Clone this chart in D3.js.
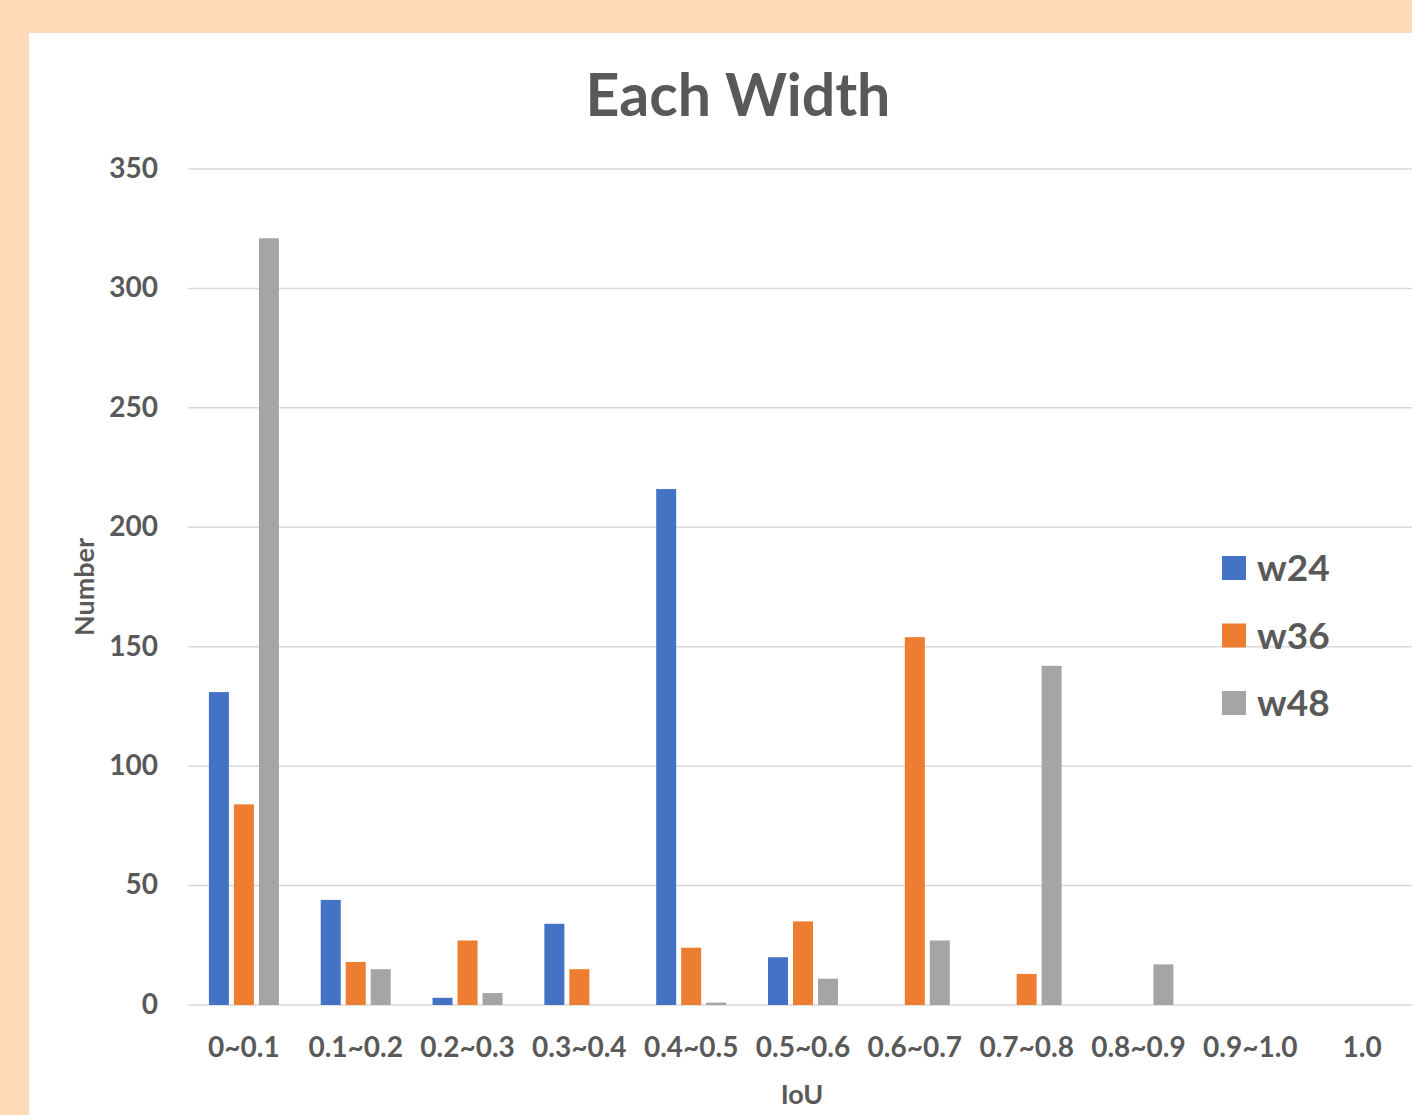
<!DOCTYPE html>
<html>
<head>
<meta charset="utf-8">
<script src="https://cdn.jsdelivr.net/npm/d3@7"></script>
<style>
  html, body { margin: 0; padding: 0; background: #FFDAB9; }
  svg { display: block; }
  text { font-family: Lato, "Open Sans", sans-serif; font-weight: 700; fill: #595959; }
</style>
</head>
<body>
<svg id="chart" width="1412" height="1115"></svg>
<script>
// IoU buckets along the x axis
const categories = ["0~0.1", "0.1~0.2", "0.2~0.3", "0.3~0.4", "0.4~0.5", "0.5~0.6",
                    "0.6~0.7", "0.7~0.8", "0.8~0.9", "0.9~1.0", "1.0"];
const seriesNames = ["w24", "w36", "w48"];
const w24 = [131, 44, 3, 34, 216, 20, 0, 0, 0, 0, 0];
const w36 = [84, 18, 27, 15, 24, 35, 154, 13, 0, 0, 0];
const w48 = [321, 15, 5, 0, 1, 11, 27, 142, 17, 0, 0];
const yTicks = [0, 50, 100, 150, 200, 250, 300, 350];
const colors = ["#4472C4", "#ED7D31", "#A5A5A5"];

const seriesValues = [w24, w36, w48];
const svg = d3.select("#chart");

// white chart panel over the peach background
svg.append("rect").attr("x", 29).attr("y", 33).attr("width", 1412 - 29).attr("height", 1115 - 33)
  .attr("fill", "#ffffff");

const plot = { left: 188, right: 1418, top: 169, bottom: 1005 };

const y = d3.scaleLinear().domain([0, 350]).range([plot.bottom, plot.top]);
const x0 = d3.scaleBand().domain(categories).range([plot.left, plot.right])
  .paddingInner(0.374).paddingOuter(0.187);
const x1 = d3.scaleBand().domain(seriesNames).range([0, x0.bandwidth()]).paddingInner(0.2);

// gridlines
const grid = svg.append("g");
grid.selectAll("line").data(yTicks).join("line")
  .attr("x1", plot.left).attr("x2", 1412)
  .attr("y1", d => y(d)).attr("y2", d => y(d))
  .attr("stroke", "#d9d9d9").attr("stroke-width", 1.5);

// y axis labels
const yAxis = svg.append("g").attr("transform", `translate(${plot.left - 30},0)`)
  .call(d3.axisLeft(y).tickValues(yTicks).tickSize(0).tickPadding(0));
yAxis.select(".domain").remove();
yAxis.selectAll("text").attr("font-size", 28).attr("dy", "0.3em")
  .style("font-family", "Lato, sans-serif").style("font-weight", 700).attr("fill", "#595959");

// bars
const groups = svg.append("g").selectAll("g").data(categories).join("g")
  .attr("transform", d => `translate(${x0(d)},0)`);
groups.selectAll("rect")
  .data((c, i) => seriesNames.map((s, k) => ({ s, k, v: seriesValues[k][i] })))
  .join("rect")
  .attr("x", d => x1(d.s))
  .attr("width", x1.bandwidth())
  .attr("y", d => y(d.v))
  .attr("height", d => y(0) - y(d.v))
  .attr("fill", d => colors[d.k]);

// x axis labels
const xAxis = svg.append("g").attr("transform", `translate(0,${plot.bottom + 32})`)
  .call(d3.axisBottom(x0).tickSize(0).tickPadding(0));
xAxis.select(".domain").remove();
xAxis.selectAll("text").attr("font-size", 28).attr("dy", "0.71em")
  .style("font-family", "Lato, sans-serif").style("font-weight", 700).attr("fill", "#595959");

// title
svg.append("text").attr("x", 738).attr("y", 116).attr("text-anchor", "middle")
  .attr("font-size", 59).text("Each Width");

// axis titles
svg.append("text").attr("x", 802).attr("y", 1104).attr("text-anchor", "middle")
  .attr("font-size", 27).text("IoU");
svg.append("text").attr("transform", "translate(94,587) rotate(-90)")
  .attr("text-anchor", "middle").attr("font-size", 27).text("Number");

// legend
const legend = svg.append("g").selectAll("g").data(seriesNames).join("g")
  .attr("transform", (d, i) => `translate(1222,${556 + i * 67.5})`);
legend.append("rect").attr("width", 24).attr("height", 24).attr("fill", (d, i) => colors[i]);
legend.append("text").attr("x", 35).attr("y", 25).attr("font-size", 37).text(d => d);
</script>
</body>
</html>
